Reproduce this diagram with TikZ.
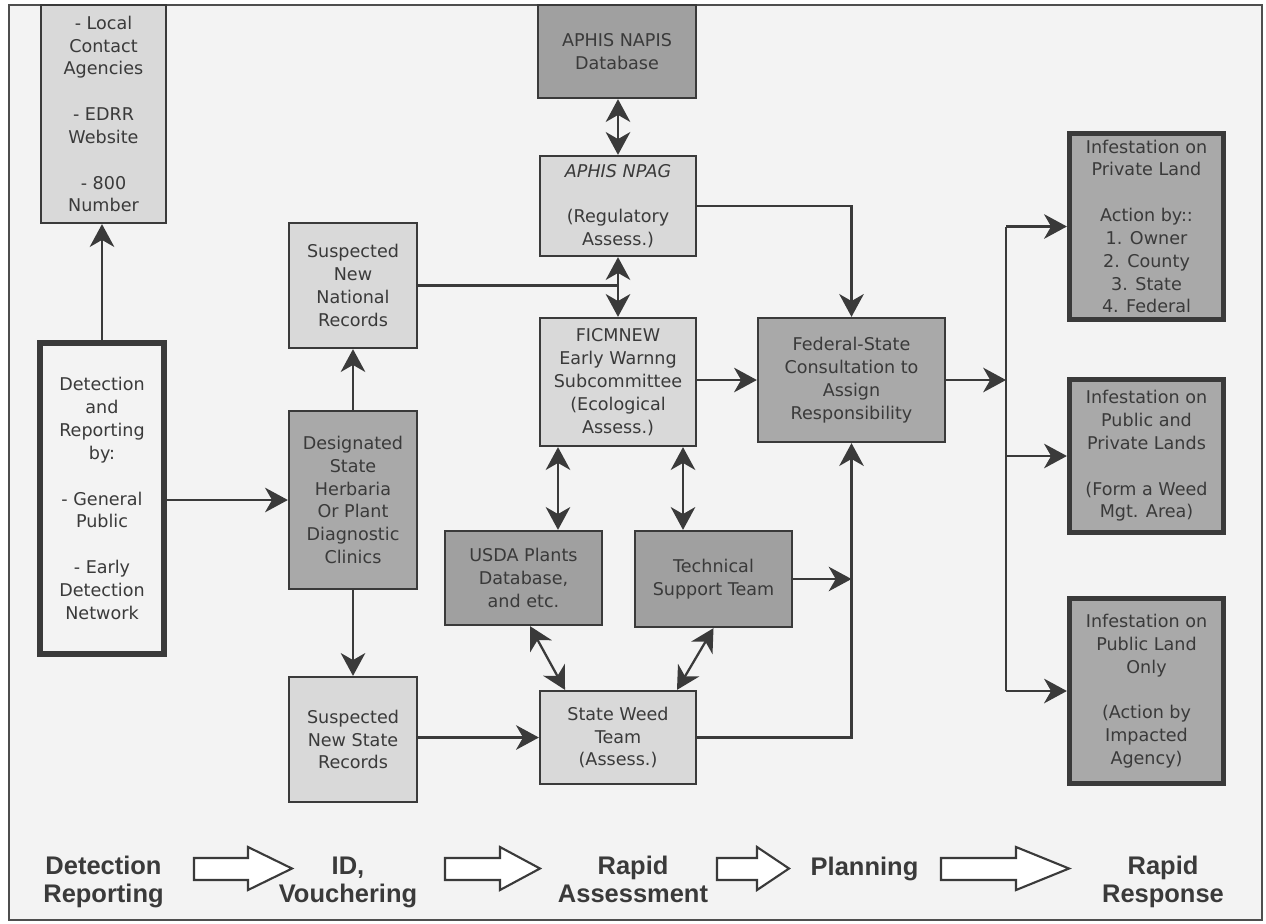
\documentclass[tikz,border=0pt]{standalone}
\usepackage{fontspec}
\setmainfont{DejaVu Sans}
\newfontfamily\stagefont{Liberation Sans}
\usetikzlibrary{arrows.meta}
\definecolor{paper}{HTML}{F3F3F3}
\definecolor{ink}{HTML}{3A3A3A}
\definecolor{lightfill}{HTML}{D9D9D9}
\definecolor{midfill}{HTML}{A9A9A9}
\definecolor{darkfill}{HTML}{A0A0A0}
\begin{document}
\begin{tikzpicture}[x=0.02cm, y=-0.02cm,
	>={Stealth[length=13pt,width=14pt,inset=4pt]},
	box/.style={draw=ink, line width=1.3pt, text=ink, align=center, inner sep=0pt,
		font=\fontsize{10}{13}\selectfont},
	lightbox/.style={box, fill=lightfill},
	midbox/.style={box, fill=midfill},
	darkbox/.style={box, fill=darkfill},
	thickbox/.style={box, fill=midfill, line width=3pt},
	wire/.style={draw=ink, line width=1.3pt},
	link/.style={wire, ->},
	both/.style={wire, <->},
	stage/.style={text=ink, align=center, font=\stagefont\bfseries\fontsize{14.5}{16}\selectfont}]%EDRR flow chart
	
	\useasboundingbox (0,0) rectangle (1266,923);
	\draw[fill=paper, draw=ink!90, line width=1.2pt] (9,5) rectangle (1262,920);
	
	% first column
	\node[lightbox, minimum width=2.5cm, minimum height=4.36cm] (local) at (103.5,114)
		{- Local\\Contact\\Agencies\\[13pt]- EDRR\\Website\\[13pt]- 800\\Number};
	\node[box, fill=paper, line width=3.2pt, minimum width=2.48cm, minimum height=6.22cm] (detect) at (102,498.5)
		{Detection\\and\\Reporting\\by:\\[13pt]- General\\Public\\[13pt]- Early\\Detection\\Network};
	
	% second column
	\node[lightbox, minimum width=2.56cm, minimum height=2.5cm] (nat) at (353,285.5)
		{Suspected\\New\\National\\Records};
	\node[midbox, minimum width=2.56cm, minimum height=3.56cm] (herb) at (353,500)
		{Designated\\State\\Herbaria\\Or Plant\\Diagnostic\\Clinics};
	\node[lightbox, minimum width=2.56cm, minimum height=2.5cm] (strec) at (353,739.5)
		{Suspected\\New State\\Records};
	
	% assessment
	\node[darkbox, minimum width=3.16cm, minimum height=1.86cm] (napis) at (617,51.5)
		{APHIS NAPIS\\Database};
	\node[lightbox, minimum width=3.12cm, minimum height=2cm] (npag) at (618,206)
		{\itshape APHIS NPAG\\[13pt](Regulatory\\Assess.)};
	\node[lightbox, minimum width=3.12cm, minimum height=2.56cm] (ficm) at (618,382)
		{FICMNEW\\Early Warnng\\Subcommittee\\(Ecological\\Assess.)};
	\node[darkbox, minimum width=3.14cm, minimum height=1.88cm] (usda) at (523.5,578)
		{USDA Plants\\Database,\\and etc.};
	\node[darkbox, minimum width=3.14cm, minimum height=1.92cm] (tech) at (713.5,579)
		{Technical\\Support Team};
	\node[lightbox, minimum width=3.12cm, minimum height=1.86cm] (swt) at (618,737.5)
		{State Weed\\Team\\(Assess.)};
	
	% planning and response
	\node[midbox, minimum width=3.74cm, minimum height=2.48cm] (fed) at (851.5,380)
		{Federal-State\\Consultation to\\Assign\\Responsibility};
	\node[thickbox, minimum width=3.08cm, minimum height=3.72cm] (priv) at (1146.5,226.5)
		{Infestation on\\Private Land\\[13pt]Action by::\\1. Owner\\2. County\\3. State\\4. Federal};
	\node[thickbox, minimum width=3.08cm, minimum height=3.06cm] (pubpriv) at (1146.5,456)
		{Infestation on\\Public and\\Private Lands\\[13pt](Form a Weed\\Mgt. Area)};
	\node[thickbox, minimum width=3.08cm, minimum height=3.7cm] (pub) at (1146.5,691)
		{Infestation on\\Public Land\\Only\\[13pt](Action by\\Impacted\\Agency)};
	\coordinate (split) at (1006,378);
	
	\draw[link] (detect.north) -- (detect.north |- local.south);
	\draw[link] (detect.east |- herb.west) -- (herb.west);
	\draw[link] (herb.north) -- (nat.south);
	\draw[link] (herb.south) -- (strec.north);
	\draw[both] (npag.north |- napis.south) -- (npag.north);
	\draw[both] (npag.south) -- (ficm.north);
	\draw[wire] (nat.east) -- (nat.east -| ficm.north);
	\draw[link] (npag.east) -| (fed.north);
	\draw[link] (ficm.east |- fed.west) -- (fed.west);
	\draw[both] ([xshift=0.69cm]usda.north |- ficm.south) -- ([xshift=0.69cm]usda.north);
	\draw[both] ([xshift=-0.61cm]tech.north |- ficm.south) -- ([xshift=-0.61cm]tech.north);
	\draw[both] ([xshift=0.13cm]usda.south) -- ([xshift=-1.06cm]swt.north);
	\draw[both] (tech.south) -- ([xshift=1.18cm]swt.north);
	\draw[link] (tech.east) -- (tech.east -| fed.south);
	\draw[link] (strec.east |- swt.west) -- (swt.west);
	\draw[link] (swt.east) -| (fed.south);
	\draw[link] (fed.east) -- (fed.east -| split);
	\draw[wire] (split |- priv.west) -- (split |- pub.west);
	\draw[link] (split |- priv.west) -- (priv.west);
	\draw[link] (split |- pubpriv.west) -- (pubpriv.west);
	\draw[link] (split |- pub.west) -- (pub.west);
	
	% stages along the bottom
	\node[stage] (s1) at (103.5,883) {Detection\strut\\Reporting\strut};
	\node[stage] (s2) at (348,883) {ID,\strut\\Vouchering\strut};
	\node[stage] (s3) at (633,883) {Rapid\strut\\Assessment\strut};
	\node[stage] (s4) at (864.5,869.5) {Planning\strut};
	\node[stage] (s5) at (1163,883) {Rapid\strut\\Response\strut};
	\foreach \a/\b/\c in {194/248/292, 445/500/540, 717/757/789, 941/1016/1069} {
		\draw[draw=ink, line width=1.2pt, fill=white] (\a,858) -- (\b,858) -- (\b,847) -- (\c,868.5)
			-- (\b,890) -- (\b,880) -- (\a,880) -- cycle;}
\end{tikzpicture}
\end{document}
